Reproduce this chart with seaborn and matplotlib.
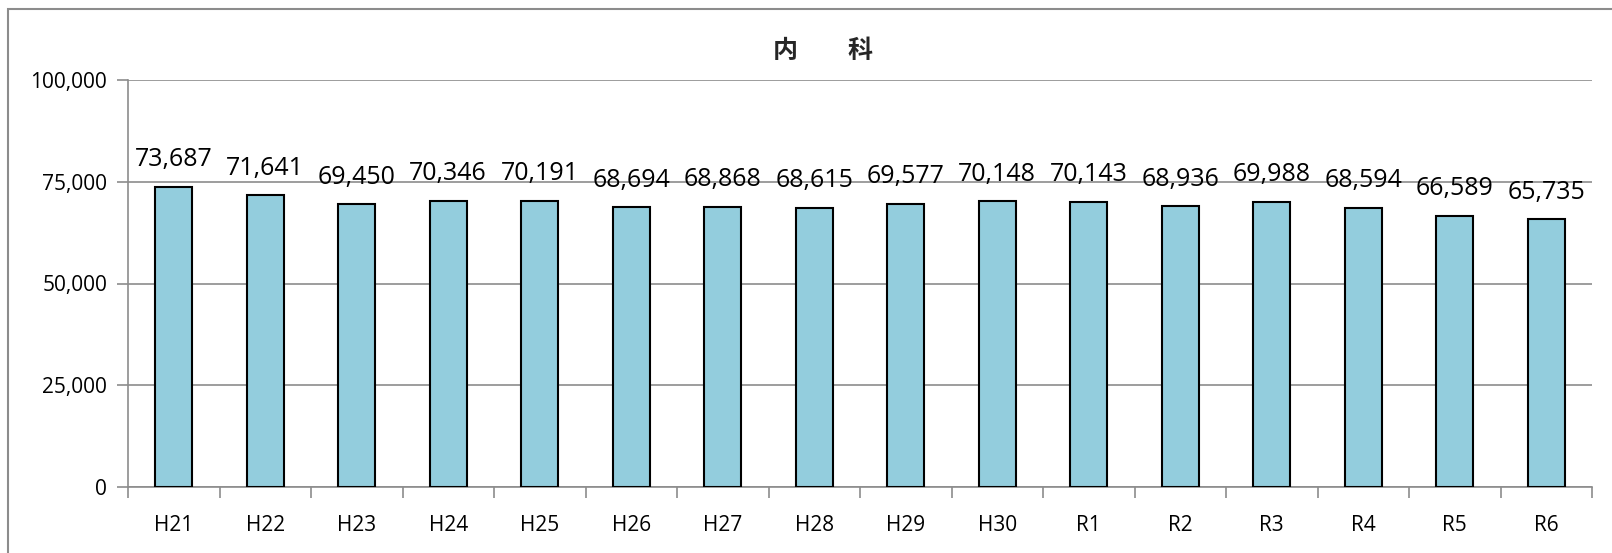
import matplotlib
matplotlib.use("Agg")
import matplotlib.pyplot as plt
import numpy as np
import pandas as pd
import seaborn as sns
from matplotlib.patches import Rectangle
from matplotlib.ticker import FuncFormatter, MultipleLocator

# データ
years = ["H21", "H22", "H23", "H24", "H25", "H26", "H27", "H28",
         "H29", "H30", "R1", "R2", "R3", "R4", "R5", "R6"]
patients = [73687, 71641, 69450, 70346, 70191, 68694, 68868, 68615,
            69577, 70148, 70143, 68936, 69988, 68594, 66589, 65735]
title = "内　　科"

df = pd.DataFrame({"year": years, "count": patients})

sns.set_theme(style="white")
plt.rcParams["font.family"] = ["Open Sans", "Noto Sans CJK JP", "DejaVu Sans"]

grid_gray = "#8c8c8c"

fig = plt.figure(figsize=(16.12, 5.53), dpi=100)
ax = fig.add_axes([128 / 1612, 1 - 487 / 553, (1592 - 128) / 1612, (487 - 80) / 553])

sns.barplot(data=df, x="year", y="count", color="#93CDDD", width=0.4,
            edgecolor="black", linewidth=1.5, saturation=1, ax=ax, zorder=3)

ax.set_ylim(0, 100000)
ax.set_xlim(-0.5, len(years) - 0.5)
ax.yaxis.set_major_locator(MultipleLocator(25000))
ax.yaxis.set_major_formatter(FuncFormatter(lambda v, p: f"{int(v):,}"))
ax.grid(axis="y", color=grid_gray, linewidth=1.2, zorder=0)
ax.set_axisbelow(True)
ax.set_xlabel("")
ax.set_ylabel("")

for side in ["top", "right"]:
    ax.spines[side].set_visible(False)
for side in ["left", "bottom"]:
    ax.spines[side].set_color(grid_gray)
    ax.spines[side].set_linewidth(1.2)

# 目盛り
ax.tick_params(axis="y", left=True, length=8, width=1.2, color=grid_gray,
               pad=7, labelsize=15, labelcolor="black")
ax.tick_params(axis="x", which="major", bottom=False, length=0, pad=20,
               labelsize=15, labelcolor="black")
ax.set_xticks(np.arange(-0.5, len(years)), minor=True)
ax.tick_params(axis="x", which="minor", bottom=True, length=8, width=1.2,
               color=grid_gray)

# データラベル
for i, v in enumerate(patients):
    ax.annotate(f"{v:,}", (i, v), xytext=(0, 15), textcoords="offset points",
                ha="center", va="baseline", fontsize=18, color="black")

fig.text(823 / 1612, 1 - 51 / 553, title, ha="center", va="center",
         fontsize=18, fontweight="bold",
         family=["Noto Sans CJK JP", "DejaVu Sans"])

# 外枠
fig.patches.append(Rectangle((8 / 1612, -0.1), 1.2, 1 - 9 / 553 + 0.1,
                             transform=fig.transFigure, fill=False,
                             edgecolor=grid_gray, linewidth=1.5))

fig.savefig("out.png", dpi=100)
